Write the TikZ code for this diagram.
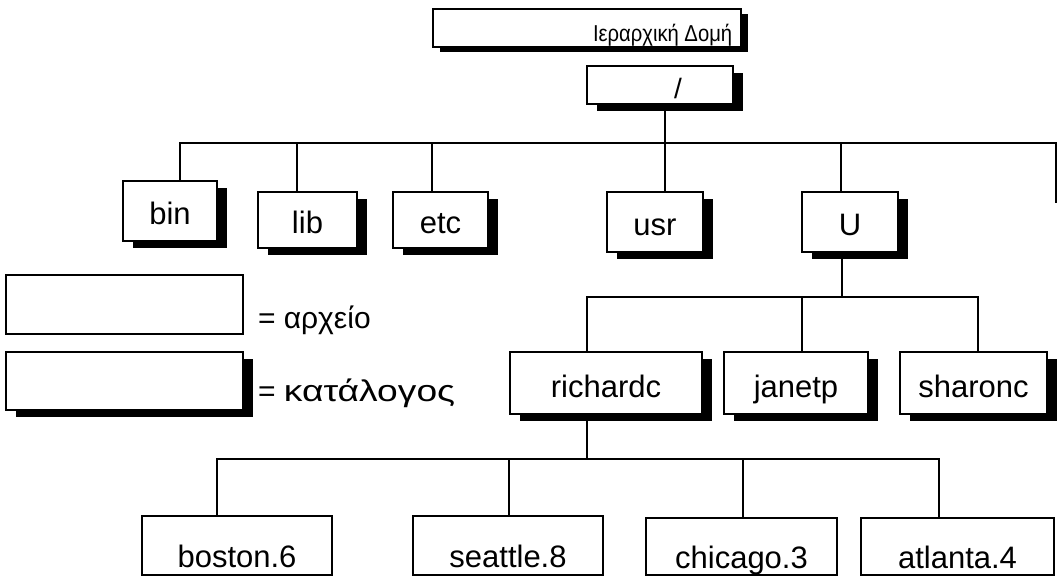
\documentclass[tikz,border=0pt]{standalone}
\usepackage{fontspec}
\setmainfont{Liberation Sans}
\usetikzlibrary{shadows}
\begin{document}
\begin{tikzpicture}[x=1pt,y=-1pt,
  every node/.style={inner sep=0pt, outer sep=0pt},
  wire/.style={line width=1.3pt},
  filebox/.style={draw, line width=1.6pt, fill=white, rectangle,
    font=\fontsize{31}{31}\selectfont, text height=28pt, text depth=0pt},
  dirbox/.style={filebox,
    drop shadow={shadow xshift=10pt, shadow yshift=-7pt, fill=black, opacity=1}},
  lowtext/.style={text height=44pt, text depth=0pt},
  legtext/.style={anchor=base west, font=\fontsize{30}{30}\selectfont},
]
\useasboundingbox (0,0) rectangle (1057,577);

% title and root
\node[draw, line width=1.6pt, fill=white, minimum width=308pt, minimum height=38pt,
  drop shadow={shadow xshift=7pt, shadow yshift=-5pt, fill=black, opacity=1}]
  (title) at (587,28) {};
\node[anchor=base west, font=\fontsize{23}{23}\selectfont] (titletext) at (593,42)
  {\scalebox{0.88}[1]{Ιεραρχική Δομή}};

\node[dirbox, minimum width=146pt, minimum height=38pt] (root) at (660,85) {};
\node[anchor=base, font=\fontsize{28}{28}\selectfont] (roottext) at (678,99) {/};

% first level
\node[dirbox, minimum width=94pt, minimum height=60pt] (bin) at (170,211) {bin};
\node[dirbox, minimum width=99pt, minimum height=56pt] (lib) at (307.5,220) {lib};
\node[dirbox, minimum width=95pt, minimum height=56pt] (etc) at (440.5,220) {etc};
\node[dirbox, minimum width=96pt, minimum height=60pt] (usr) at (655,222) {usr};
\node[dirbox, minimum width=96pt, minimum height=60pt] (U) at (850,222) {U};

% legend
\node[filebox, minimum width=237pt, minimum height=59pt] (legfile) at (124.5,304.5) {};
\node[legtext] (legfiletext) at (258,328) {= αρχείο};
\node[dirbox, minimum width=237pt, minimum height=58pt] (legdir) at (124.5,381) {};
\node[legtext] (legdirtext) at (258,401) {= \scalebox{1.24}[1]{κατάλογος}};

% users
\node[dirbox, minimum width=192pt, minimum height=62pt] (richardc) at (606,383) {richardc};
\node[dirbox, minimum width=144pt, minimum height=62pt] (janetp) at (796,383) {janetp};
\node[dirbox, minimum width=147pt, minimum height=62pt] (sharonc) at (973.5,383) {sharonc};

% files
\node[filebox, lowtext, minimum width=190pt, minimum height=59pt] (boston) at (237,545.5) {boston.6};
\node[filebox, lowtext, minimum width=190pt, minimum height=59pt] (seattle) at (508,545.5) {seattle.8};
\node[filebox, lowtext, minimum width=191pt, minimum height=57pt] (chicago) at (741.5,546.5) {chicago.3};
\node[filebox, lowtext, minimum width=193pt, minimum height=57pt] (atlanta) at (957.5,546.5) {atlanta.4};

% bus coordinates
\coordinate (busA) at (1056,143);
\coordinate (busAend) at (1056,203);
\coordinate (busB) at (842,297);
\coordinate (busC) at (587,459);

% root level connectors
\draw[wire] ([xshift=5pt]root.south) -- ([xshift=5pt]root.south |- busA);
\draw[wire] ([xshift=10pt]bin.north) |- (busA) -- (busAend);
\draw[wire] ([xshift=-10.5pt]lib.north) -- ([xshift=-10.5pt]lib.north |- busA);
\draw[wire] ([xshift=-8.5pt]etc.north) -- ([xshift=-8.5pt]etc.north |- busA);
\draw[wire] ([xshift=10pt]usr.north) -- ([xshift=10pt]usr.north |- busA);
\draw[wire] ([xshift=-9pt]U.north) -- ([xshift=-9pt]U.north |- busA);

% U connectors
\draw[wire] ([xshift=-8pt]U.south) -- (busB);
\draw[wire] ([xshift=-19pt]richardc.north) |- ([xshift=4.5pt]sharonc.north |- busB)
  -- ([xshift=4.5pt]sharonc.north);
\draw[wire] ([xshift=6pt]janetp.north) -- ([xshift=6pt]janetp.north |- busB);

% richardc connectors
\draw[wire] ([xshift=-19pt]richardc.south) -- (busC);
\draw[wire] ([xshift=-20pt]boston.north) |- ([xshift=-18.5pt]atlanta.north |- busC)
  -- ([xshift=-18.5pt]atlanta.north);
\draw[wire] ([xshift=1pt]seattle.north) -- ([xshift=1pt]seattle.north |- busC);
\draw[wire] ([xshift=1.5pt]chicago.north) -- ([xshift=1.5pt]chicago.north |- busC);
\end{tikzpicture}
\end{document}
